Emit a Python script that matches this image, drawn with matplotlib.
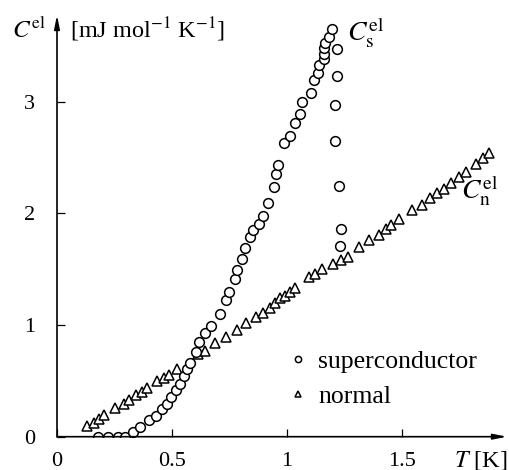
import matplotlib
matplotlib.use("Agg")
import matplotlib.pyplot as plt
from matplotlib.lines import Line2D

plt.rcParams['font.family'] = ['Liberation Serif', 'DejaVu Serif']
plt.rcParams['mathtext.fontset'] = 'stix'

# superconductor data (T [K], C [mJ/mol/K])
T_s = [0.18, 0.22, 0.265, 0.297, 0.329, 0.361, 0.401, 0.43, 0.458, 0.48, 0.494, 0.516,
       0.535, 0.552, 0.567, 0.578, 0.603, 0.619, 0.645, 0.668, 0.709, 0.737, 0.746, 0.774,
       0.784, 0.804, 0.817, 0.839, 0.851, 0.878, 0.896, 0.919, 0.945, 0.953, 0.961, 0.988,
       1.012, 1.033, 1.058, 1.065, 1.103, 1.119, 1.136, 1.14, 1.161, 1.161, 1.161, 1.165,
       1.184, 1.194, 1.216, 1.219, 1.207, 1.21, 1.225, 1.235, 1.23]
C_s = [0.0, 0.0, 0.0, 0.0, 0.045, 0.087, 0.147, 0.185, 0.245, 0.293, 0.353, 0.418,
       0.475, 0.543, 0.606, 0.663, 0.756, 0.845, 0.931, 0.994, 1.10, 1.22, 1.295, 1.41,
       1.49, 1.588, 1.686, 1.785, 1.85, 1.907, 1.98, 2.095, 2.233, 2.35, 2.43, 2.627,
       2.69, 2.808, 2.89, 3.0, 3.08, 3.193, 3.253, 3.328, 3.378, 3.43, 3.477, 3.52,
       3.575, 3.647, 3.47, 3.23, 2.97, 2.65, 2.247, 1.857, 1.707]

# normal-state data
T_n = [0.13, 0.16, 0.183, 0.205, 0.252, 0.29, 0.315, 0.345, 0.37, 0.392, 0.436, 0.465,
       0.485, 0.522, 0.613, 0.643, 0.688, 0.735, 0.782, 0.823, 0.865, 0.897, 0.926, 0.948,
       0.97, 0.991, 1.013, 1.035, 1.097, 1.122, 1.151, 1.199, 1.234, 1.264, 1.313, 1.358,
       1.402, 1.43, 1.452, 1.486, 1.545, 1.589, 1.622, 1.651, 1.684, 1.712, 1.749, 1.778,
       1.822, 1.851, 1.88]
C_n = [0.10, 0.12, 0.155, 0.19, 0.255, 0.295, 0.325, 0.37, 0.40, 0.437, 0.50, 0.525,
       0.553, 0.605, 0.738, 0.767, 0.836, 0.89, 0.955, 1.018, 1.074, 1.11, 1.15, 1.20,
       1.239, 1.26, 1.298, 1.328, 1.427, 1.457, 1.499, 1.546, 1.582, 1.612, 1.695, 1.761,
       1.806, 1.857, 1.895, 1.95, 2.03, 2.074, 2.134, 2.179, 2.215, 2.269, 2.328, 2.372,
       2.439, 2.492, 2.543]

x_ticks = [0, 0.5, 1, 1.5]
x_ticklabels = ['0', '0.5', '1', '1.5']
y_ticks = [0, 1, 2, 3]
y_ticklabels = ['0', '1', '2', '3']

fig = plt.figure(figsize=(5.1, 4.7), dpi=100)
ax = fig.add_axes([57/510, 33.3/470, 450/510, 421.7/470])
ax.set_xlim(0, 1.957)
ax.set_ylim(0, 3.775)

ms = 7
ax.plot(T_s, C_s, linestyle='none', marker='o', ms=ms, mfc='white', mec='black', mew=1.1, zorder=3)
ax.plot(T_n, C_n, linestyle='none', marker='^', ms=ms, mfc='white', mec='black', mew=1.1, zorder=2)

for s in ax.spines.values():
    s.set_visible(False)

arrow = dict(arrowstyle='-|>,head_length=0.8,head_width=0.16', color='black', lw=1.2,
             shrinkA=0, shrinkB=0)
ax.annotate('', xy=(1.0, 0), xytext=(0, 0), xycoords='axes fraction', arrowprops=arrow)
ax.annotate('', xy=(0, 1.0), xytext=(0, 0), xycoords='axes fraction', arrowprops=arrow)

ax.set_xticks(x_ticks)
ax.set_xticklabels(x_ticklabels)
ax.set_yticks(y_ticks)
ax.set_yticklabels(y_ticklabels)
ax.tick_params(direction='in', length=6, width=0.9, labelsize=16)
ax.tick_params(axis='x', pad=11)
ax.tick_params(axis='y', pad=16)

fig.text(12/510, 1 - 30/470, r'$C^{\mathrm{el}}$', fontsize=18, va='center', ha='left')
fig.text(70/510, 1 - 30/470, r'[mJ mol$^{-1}$ K$^{-1}$]', fontsize=17.5, va='center', ha='left')
fig.text(507/510, 1 - 460/470, r'$T$ [K]', fontsize=17.5, va='center', ha='right')

ax.text(1.26, 3.62, r'$C_{\mathrm{s}}^{\mathrm{el}}$', fontsize=20, va='center', ha='left')
ax.text(1.755, 2.2, r'$C_{\mathrm{n}}^{\mathrm{el}}$', fontsize=20, va='center', ha='left')

handles = [Line2D([], [], linestyle='none', marker='o', ms=4.5, mfc='white', mec='black', mew=1.1),
           Line2D([], [], linestyle='none', marker='^', ms=4.5, mfc='white', mec='black', mew=1.1)]
ax.legend(handles, ['superconductor', 'normal'], loc='upper left',
          bbox_to_anchor=(290/510, 1 - 350/470), bbox_transform=fig.transFigure,
          frameon=False, fontsize=18.5, handlelength=0.6, handletextpad=0.5,
          labelspacing=0.45, borderpad=0, borderaxespad=0)

fig.savefig('out.png', dpi=100, facecolor='white')
